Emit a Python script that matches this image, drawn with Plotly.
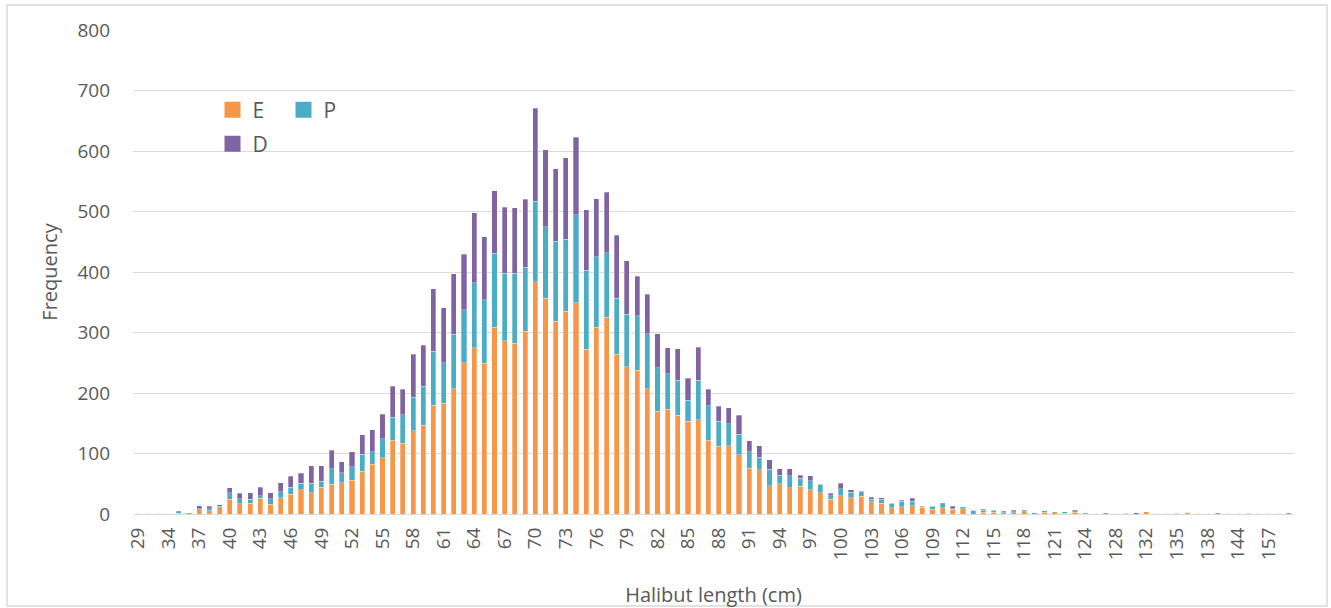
import plotly.graph_objects as go

categories = ["29", "31", "33"] + [str(v) for v in range(34, 125)] + [
    "126", "127", "128", "130", "131", "132", "133", "134", "135", "136",
    "137", "138", "140", "142", "144", "146", "150", "157", "160", "165"]

E = [1, 1, 1, 1, 1, 2, 7, 5, 10, 24, 17, 18, 26, 16, 27, 33, 40, 35, 44, 49,
     52, 56, 71, 82, 93, 122, 117, 138, 147, 180, 183, 207, 250, 275, 249, 309,
     286, 282, 302, 384, 357, 319, 335, 349, 272, 309, 325, 264, 243, 238, 207,
     170, 173, 163, 153, 156, 122, 112, 113, 98, 76, 73, 47, 50, 43, 46, 40, 35,
     24, 30, 27, 29, 20, 18, 10, 12, 14, 11, 8, 10, 8, 9, 0, 3, 3, 2, 2, 4, 0,
     3, 4, 1, 3, 2, 1, 0, 1, 0, 0, 4, 1, 1, 0, 3, 1, 1, 0, 1, 1, 0, 1, 1, 1, 0]
P = [0, 0, 0, 0, 3, 0, 2, 4, 3, 11, 8, 6, 4, 9, 10, 11, 11, 16, 10, 26,
     16, 22, 28, 21, 31, 38, 47, 55, 64, 89, 67, 90, 88, 107, 105, 122,
     112, 116, 106, 133, 118, 132, 119, 146, 131, 116, 107, 93, 87, 90, 91,
     72, 59, 58, 35, 65, 57, 41, 36, 34, 27, 21, 27, 14, 20, 13, 15, 14,
     6, 12, 9, 8, 4, 6, 8, 9, 7, 1, 5, 7, 1, 1, 6, 3, 3, 2, 2, 1, 2,
     2, 0, 3, 1, 0, 0, 0, 0, 1, 0, 0, 0, 0, 1, 0, 0, 0, 0, 0, 0, 1, 0, 0, 0, 0]
D = [0, 0, 0, 0, 1, 0, 5, 4, 2, 8, 9, 11, 14, 10, 15, 18, 16, 29, 26, 30,
     18, 25, 32, 36, 41, 51, 42, 71, 68, 103, 91, 100, 91, 116, 104, 103,
     109, 108, 112, 154, 127, 120, 135, 128, 100, 96, 100, 104, 89, 65, 65,
     56, 43, 52, 36, 55, 27, 25, 27, 31, 18, 19, 16, 11, 12, 5, 8, 1,
     4, 9, 4, 1, 4, 3, 1, 2, 5, 1, 1, 2, 4, 2, 0, 2, 1, 1, 2, 2, 0,
     0, 0, 0, 2, 0, 0, 1, 0, 0, 2, 0, 0, 0, 0, 0, 0, 0, 1, 0, 0, 0, 0, 0, 0, 1]

series = [("E", E, "#F79646", "legend"),
          ("P", P, "#4BACC6", "legend"),
          ("D", D, "#8064A2", "legend2")]

font_family = "Open Sans"
txt = "#595959"

fig = go.Figure()
for name, vals, col, lg in series:
    fig.add_trace(go.Bar(
        x=categories, y=vals, name=name, marker_color=col,
        marker_line_color="rgba(255,255,255,0.6)", marker_line_width=0.5,
        showlegend=False, legendgroup=name))
# legend entries (square swatches)
for name, vals, col, lg in series:
    fig.add_trace(go.Scatter(
        x=[None], y=[None], mode="markers", name=name, legend=lg, legendgroup=name,
        marker=dict(symbol="square", size=17, color=col)))

W, H = 1331, 608
L, R, T, B = 133, 37, 30, 94
pw, ph = W - L - R, H - T - B

def px(x):
    return (x - L) / pw

def py(y):
    return (H - B - y) / ph

leg_common = dict(orientation="h", xanchor="left", yanchor="top",
                  font=dict(size=21, color=txt), entrywidth=26,
                  entrywidthmode="pixels", traceorder="normal",
                  bgcolor="rgba(0,0,0,0)", itemclick=False, itemdoubleclick=False)

fig.update_layout(
    width=W, height=H,
    margin=dict(l=L, r=R, t=T, b=B, autoexpand=False),
    barmode="stack", bargap=0.5,
    paper_bgcolor="white", plot_bgcolor="white",
    font=dict(family=font_family, color=txt, size=19),
    legend=dict(x=px(212.5), y=py(89.5), **leg_common),
    legend2=dict(x=px(212.5), y=py(123.5), **leg_common),
    xaxis=dict(type="category", categoryorder="array", categoryarray=categories,
               tickmode="array", tickvals=categories[::3], ticktext=categories[::3],
               tickangle=-90, showgrid=False, showline=True, linecolor="#D9D9D9",
               linewidth=1, ticks="", tickfont=dict(size=19, color=txt),
               ticklabelstandoff=5, automargin=False,
               title=dict(text="Halibut length (cm)", font=dict(size=20, color=txt),
                          standoff=30)),
    yaxis=dict(range=[0, 800], dtick=100, showgrid=True, gridcolor="#D9D9D9",
               gridwidth=1, zeroline=False, showline=False, ticks="",
               tickfont=dict(size=19, color=txt), ticklabelstandoff=22,
               automargin=False,
               title=dict(text="Frequency", font=dict(size=20, color=txt),
                          standoff=14)),
    shapes=[dict(type="rect", xref="paper", yref="paper",
                 x0=px(7), x1=px(1327), y0=py(606), y1=py(5),
                 line=dict(color="#D9D9D9", width=1.5), fillcolor="rgba(0,0,0,0)",
                 layer="below")],
)

fig.write_html("out.html", config={"displayModeBar": False},
               post_script="document.body.style.margin='0px';document.body.style.overflow='hidden';")
